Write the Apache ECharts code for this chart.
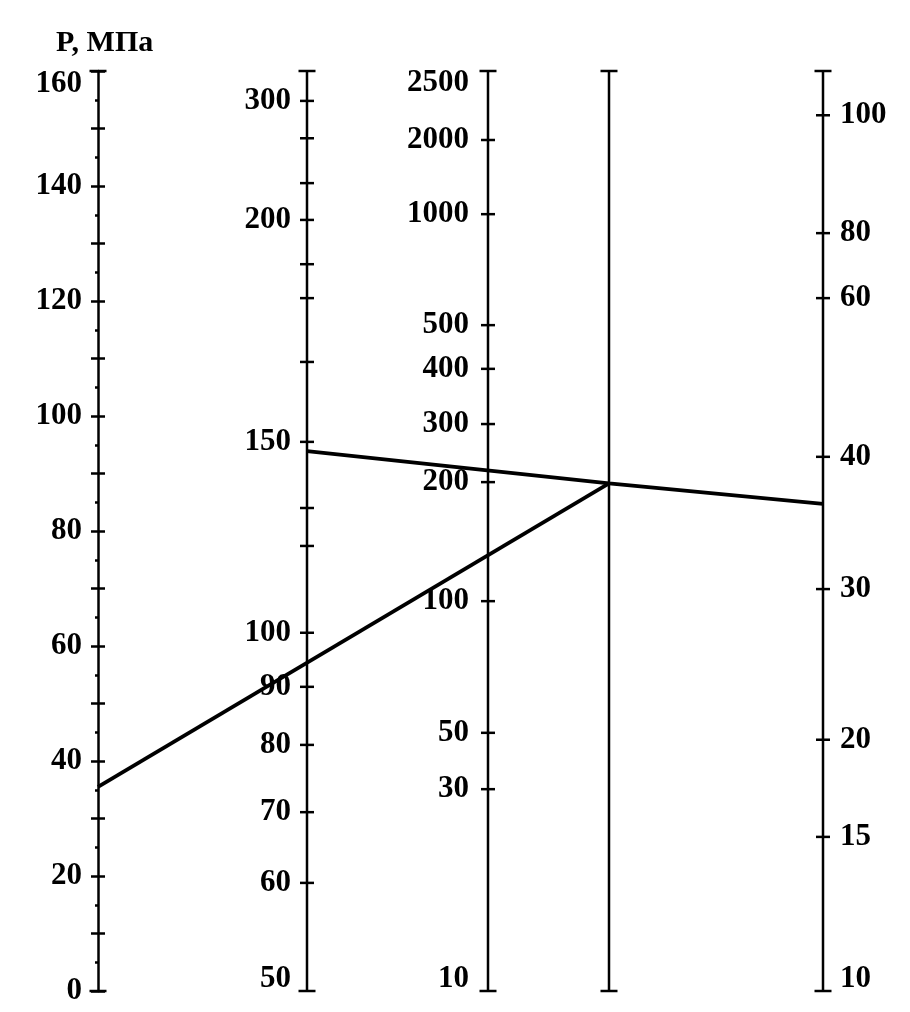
<!DOCTYPE html>
<html>
<head>
<meta charset="utf-8">
<style>html,body{margin:0;padding:0;background:#fff;}#chart{width:910px;height:1012px;}</style>
<script src="https://cdn.jsdelivr.net/npm/echarts@6/dist/echarts.min.js"></script>
</head>
<body>
<div id="chart"></div>
<script>
// ---- data: scale readings (heights on the common vertical scale, 0..160) ----
const pMin = 0, pMax = 160, pTickStep = 10, pLabelStep = 20;
const bLabels  = [50, 60, 70, 80, 90, 100, 150, 200, 300];
const bHeights = [0, 18.8, 31.1, 42.8, 52.9, 62.3, 95.5, 134.1, 154.8];
const bExtraTicks = [77.4, 84.0, 109.4, 120.5, 126.4, 140.5, 148.3];
const cLabels  = [10, 30, 50, 100, 200, 300, 400, 500, 1000, 2000, 2500];
const cHeights = [0, 35.1, 44.9, 67.8, 88.5, 98.6, 108.2, 115.8, 135.1, 148.0, 160];
const eLabels  = [10, 15, 20, 30, 40, 60, 80, 100];
const eHeights = [0, 26.8, 43.7, 69.9, 92.9, 120.5, 131.8, 152.3];
// key lines: [scale index, height]
const keyLine1 = [[0, 35.5], [3, 88.3]];
const keyLine2 = [[1, 93.9], [3, 88.3], [4, 84.7]];

// ---- layout ----
const scaleX = [0, 209, 390, 511, 725];
const FONT = '"Liberation Serif", "Times New Roman", serif';
const FS = 31;
const black = '#000';
const textStyleBase = {color: black, fontFamily: FONT, fontSize: FS, fontWeight: 'bold'};
const markStyle = {color: black, opacity: 1};

const series = [];
// vertical lines for scales B..E
for (let i = 1; i < 5; i++) {
  series.push({type: 'line', data: [[scaleX[i], pMin], [scaleX[i], pMax]], symbol: 'none', clip: false, silent: true,
    lineStyle: {color: black, width: 2.5}, z: 2});
}
// caps top/bottom for all scales
const capData = [];
for (let i = 0; i < 5; i++) { capData.push([scaleX[i], pMin]); capData.push([scaleX[i], pMax]); }
series.push({type: 'scatter', data: capData, symbol: 'rect', symbolSize: [17, 2.5], clip: false, silent: true,
  itemStyle: markStyle, z: 3});

function isEdge(h) { return h <= pMin || h >= pMax; }
function edgeOffset(h) { return h <= pMin ? [0, -12] : (h >= pMax ? [0, 12] : [0, 0]); }
function labelled(scaleIdx, labels, heights, side, dist) {
  return {
    type: 'scatter', clip: false, silent: true, symbol: 'rect',
    symbolSize: [14, 2.5], itemStyle: markStyle, z: 3,
    data: labels.map((l, k) => ({
      value: [scaleX[scaleIdx], heights[k]],
      symbolSize: isEdge(heights[k]) ? 0 : [14, 2.5],
      label: Object.assign({show: true, position: side, formatter: String(l),
        distance: isEdge(heights[k]) ? dist + 7 : dist, offset: edgeOffset(heights[k])}, textStyleBase)
    })),
    label: Object.assign({position: side, distance: dist}, textStyleBase)
  };
}
series.push(labelled(1, bLabels, bHeights, 'left', 9));
series.push({type: 'scatter', clip: false, silent: true, symbol: 'rect', symbolSize: [14, 2.5],
  itemStyle: markStyle, z: 3, data: bExtraTicks.map(h => [scaleX[1], h])});
series.push(labelled(2, cLabels, cHeights, 'left', 12));
series.push(labelled(4, eLabels, eHeights, 'right', 10));

// key lines
[keyLine1, keyLine2].forEach(pts => {
  series.push({type: 'line', data: pts.map(p => [scaleX[p[0]], p[1]]), symbol: 'none', clip: false, silent: true,
    lineStyle: {color: black, width: 3.8}, z: 4});
});

const chart = echarts.init(document.getElementById('chart'));
chart.setOption({
  backgroundColor: '#fff',
  animation: false,
  title: {text: 'P, МПа', left: 51, top: 23,
    textStyle: {fontFamily: FONT, fontSize: 30, fontWeight: 'bold', color: black}},
  grid: {left: 98, right: 87, top: 71, bottom: 21, containLabel: false, outerBoundsMode: 'none'},
  xAxis: {type: 'value', min: 0, max: scaleX[4], show: false},
  yAxis: [
    {type: 'value', position: 'left', min: pMin, max: pMax, interval: pTickStep,
      axisLine: {show: true, lineStyle: {color: black, width: 2.5}},
      axisTick: {show: true, length: 7, lineStyle: {color: black, width: 2.5}},
      minorTick: {show: true, splitNumber: 2, length: 3, lineStyle: {color: black, width: 2.5}},
      splitLine: {show: false},
      axisLabel: Object.assign({margin: 16,
        formatter: v => (v % pLabelStep !== 0) ? '' : (v >= pMax ? '{sp| }\n{t|' + v + '}' : '{t|' + v + '}'),
        rich: {t: Object.assign({}, textStyleBase), sp: {height: 26, lineHeight: 26, fontSize: 10}}}, textStyleBase)
    },
    {type: 'value', position: 'left', min: pMin, max: pMax, interval: pTickStep,
      axisLine: {show: false},
      axisTick: {show: true, inside: true, length: 7, lineStyle: {color: black, width: 2.5}},
      splitLine: {show: false}, axisLabel: {show: false}
    }
  ],
  series: series
});
</script>
</body>
</html>
